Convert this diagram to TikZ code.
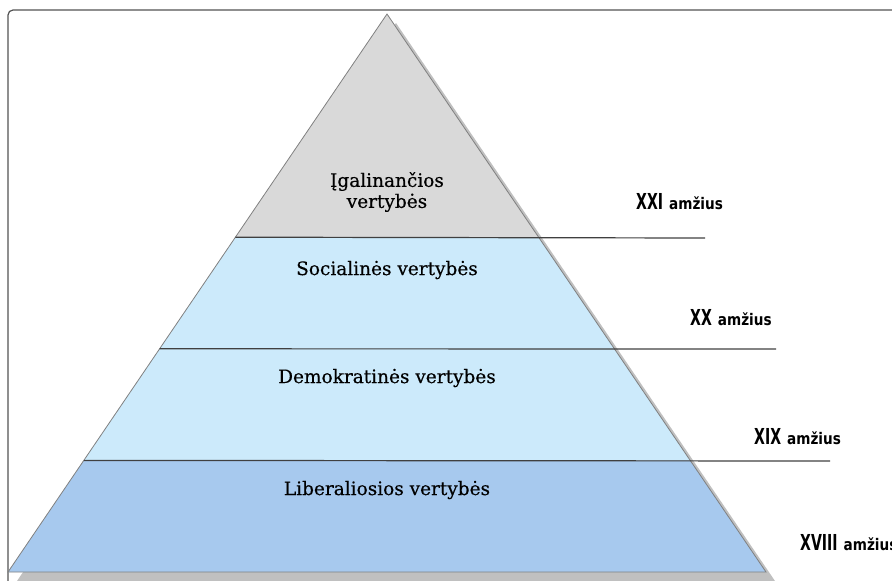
\documentclass[tikz,border=0pt]{standalone}
\usepackage{fontspec}
\usepackage{tikz}
\usetikzlibrary{positioning,calc}
\usepackage{xcolor}
\newfontfamily\bandfont[FakeBold=0.4]{DejaVu Serif}
\newfontfamily\numfont[FakeStretch=0.64]{DejaVu Sans}
\newfontfamily\wordfont[FakeStretch=0.85]{DejaVu Sans}
\definecolor{pgray}{RGB}{217,217,217}
\definecolor{plightblue}{RGB}{204,234,251}
\definecolor{pblue}{RGB}{167,201,238}
\definecolor{pshadow}{RGB}{192,192,192}
\definecolor{pedge}{RGB}{128,128,128}
\definecolor{pline}{RGB}{64,64,64}
\tikzstyle{divider} = [line width=1.2pt,color=pline]
\tikzstyle{bandlabel} = [font=\bandfont\fontsize{18.5}{21}\selectfont, align=center, text=black]
\newcommand{\amzius}[1]{{\numfont\bfseries\fontsize{22}{24}\selectfont #1}\hspace{6pt}{\wordfont\bfseries\fontsize{16}{18}\selectfont amžius}}

\begin{document}
\begin{tikzpicture}[x=1pt,y=-1pt]
\useasboundingbox (0,0) rectangle (892,581);
% Frame
\draw[line width=1.2pt, color=pline!90] (892,10) -- (13,10) arc[start angle=270, end angle=180, radius=5] -- (8,581);

% Pyramid corners
\coordinate (apex) at (387,14);
\coordinate (bl) at (8,572);
\coordinate (br) at (766,572);
\foreach \t/\n in {0.4/a,0.6/b,0.8/c} {
    \coordinate (l\n) at ($(apex)!\t!(bl)$);
    \coordinate (r\n) at ($(apex)!\t!(br)$);
}

% Shadow
\fill[pshadow] ($(apex)+(9,9)$) -- ($(br)+(9,9)$) -- ($(bl)+(9,9)$) -- cycle;

% Bands
\fill[pgray] (apex) -- (ra) -- (la) -- cycle;
\fill[plightblue] (la) -- (ra) -- (rc) -- (lc) -- cycle;
\fill[pblue] (lc) -- (rc) -- (br) -- (bl) -- cycle;
\draw[color=pedge, line width=0.8pt] (apex) -- (br) -- (bl) -- cycle;

% Dividers
\coordinate (ea) at (705,238);
\coordinate (eb) at (776,349);
\coordinate (ec) at (830,461);
\draw[divider] (la) -- (ea);
\draw[divider] (lb) -- (eb);
\draw[divider] (lc) -- (ec);

% Band labels
\node[bandlabel] (empower) at (387,192) {Įgalinančios\\vertybės};
\node[bandlabel] (social) at (387,270) {Socialinės vertybės};
\node[bandlabel] (democ) at (387,378) {Demokratinės vertybės};
\node[bandlabel] (liberal) at (387,490) {Liberaliosios vertybės};

% Centuries
\node[anchor=west, inner sep=0pt] (c21) at (636,202) {\amzius{XXI}};
\node[anchor=west, inner sep=0pt] (c20) at (690,318) {\amzius{XX}};
\node[anchor=west, inner sep=0pt] (c19) at (754,437) {\amzius{XIX}};
\node[anchor=west, inner sep=0pt] (c18) at (800,543) {\amzius{XVIII}};
\end{tikzpicture}
\end{document}
